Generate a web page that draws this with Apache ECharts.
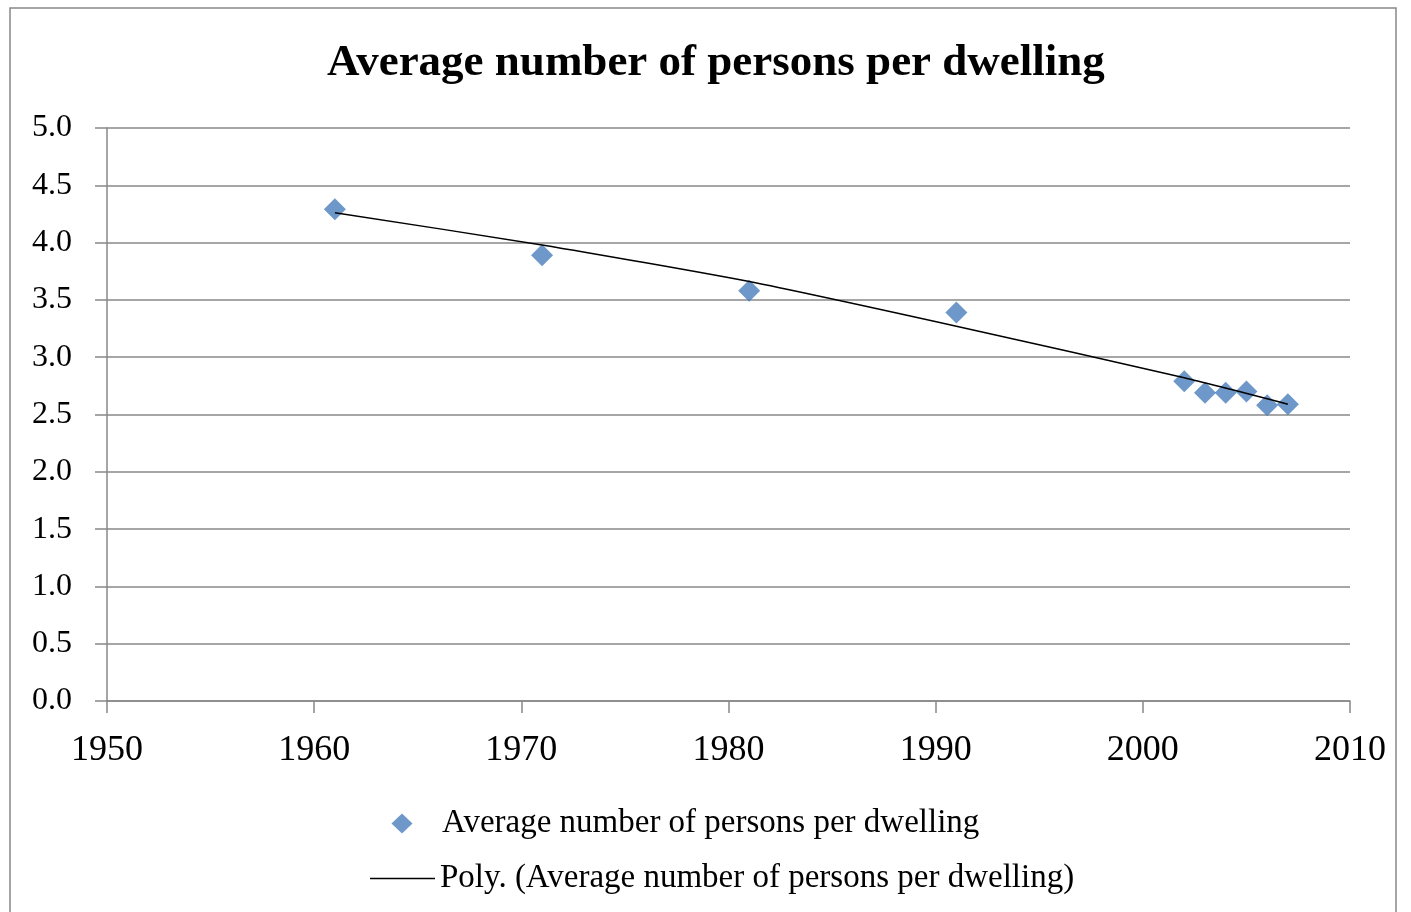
<!DOCTYPE html>
<html><head><meta charset="utf-8">
<script src="https://cdn.jsdelivr.net/npm/echarts@6/dist/echarts.min.js"></script>
<style>html,body{margin:0;padding:0;background:#fff}#c{width:1411px;height:912px}</style>
</head><body><div id="c"></div>
<script>
const years = [1961, 1971, 1981, 1991, 2002, 2003, 2004, 2005, 2006, 2007];
const persons = [4.29, 3.89, 3.58, 3.39, 2.79, 2.69, 2.69, 2.70, 2.58, 2.59];
const trendYears = [1961, 1971, 1981, 1991, 2002, 2007];
const trendValues = [4.26, 3.98, 3.66, 3.27, 2.82, 2.59];
const xTicks = [1950, 1960, 1970, 1980, 1990, 2000, 2010];
const yTicks = [0, 0.5, 1, 1.5, 2, 2.5, 3, 3.5, 4, 4.5, 5];
const seriesName = 'Average number of persons per dwelling';
const trendName = 'Poly. (Average number of persons per dwelling)';

const chart = echarts.init(document.getElementById('c'));
const serif = '"Liberation Serif", "Times New Roman", serif';
chart.setOption({
  animation: false,
  graphic: [{type: 'rect', shape: {x: 10, y: 8, width: 1386, height: 920}, style: {fill: 'none', stroke: '#888', lineWidth: 1.5}}],
  title: {text: 'Average number of persons per dwelling', left: 322, top: 36,
    textStyle: {fontFamily: serif, fontWeight: 'bold', fontSize: 45, color: '#000'}},
  legend: [
    {data: [{name: seriesName, icon: 'path://M0,0M71,20M25.5,10L36,0L46.5,10L36,20Z'}], left: 366, top: 807, padding: 0,
      itemWidth: 71, itemHeight: 20, itemGap: 10,
      textStyle: {fontFamily: serif, fontSize: 33, color: '#000'}},
    {data: [{name: trendName, icon: 'rect'}], left: 370, top: 862, padding: 0,
      itemWidth: 65, itemHeight: 1.5, itemGap: 4,
      itemStyle: {color: '#000'},
      textStyle: {fontFamily: serif, fontSize: 33, color: '#000'}}
  ],
  grid: {left: 107, right: 61, top: 128, bottom: 211},
  xAxis: {type: 'value', min: 1950, max: 2010, interval: 10,
    axisLine: {lineStyle: {color: '#888', width: 1.5}},
    axisTick: {length: 12, lineStyle: {color: '#888', width: 1.5}},
    axisLabel: {fontFamily: serif, fontSize: 36, color: '#000', margin: 32,
      formatter: v => String(v)},
    splitLine: {show: false}},
  yAxis: {type: 'value', min: 0, max: 5, interval: 0.5,
    axisLine: {show: true, lineStyle: {color: '#888', width: 1.5}},
    axisTick: {show: true, length: 12, lineStyle: {color: '#888', width: 1.5}},
    axisLabel: {fontFamily: serif, fontSize: 32, color: '#000', margin: 35,
      formatter: v => v.toFixed(1)},
    splitLine: {lineStyle: {color: '#888', width: 1.5}}},
  series: [
    {name: seriesName, type: 'scatter', symbol: 'diamond', symbolSize: 22,
      itemStyle: {color: '#4a7ebb'}, data: years.map((y, i) => [y, persons[i]]), z: 2},
    {name: trendName, type: 'line', smooth: 0.2, showSymbol: false, symbol: 'none',
      lineStyle: {color: '#000', width: 1.5}, itemStyle: {color: '#000'},
      data: trendYears.map((y, i) => [y, trendValues[i]]), z: 3}
  ]
});
</script></body></html>
